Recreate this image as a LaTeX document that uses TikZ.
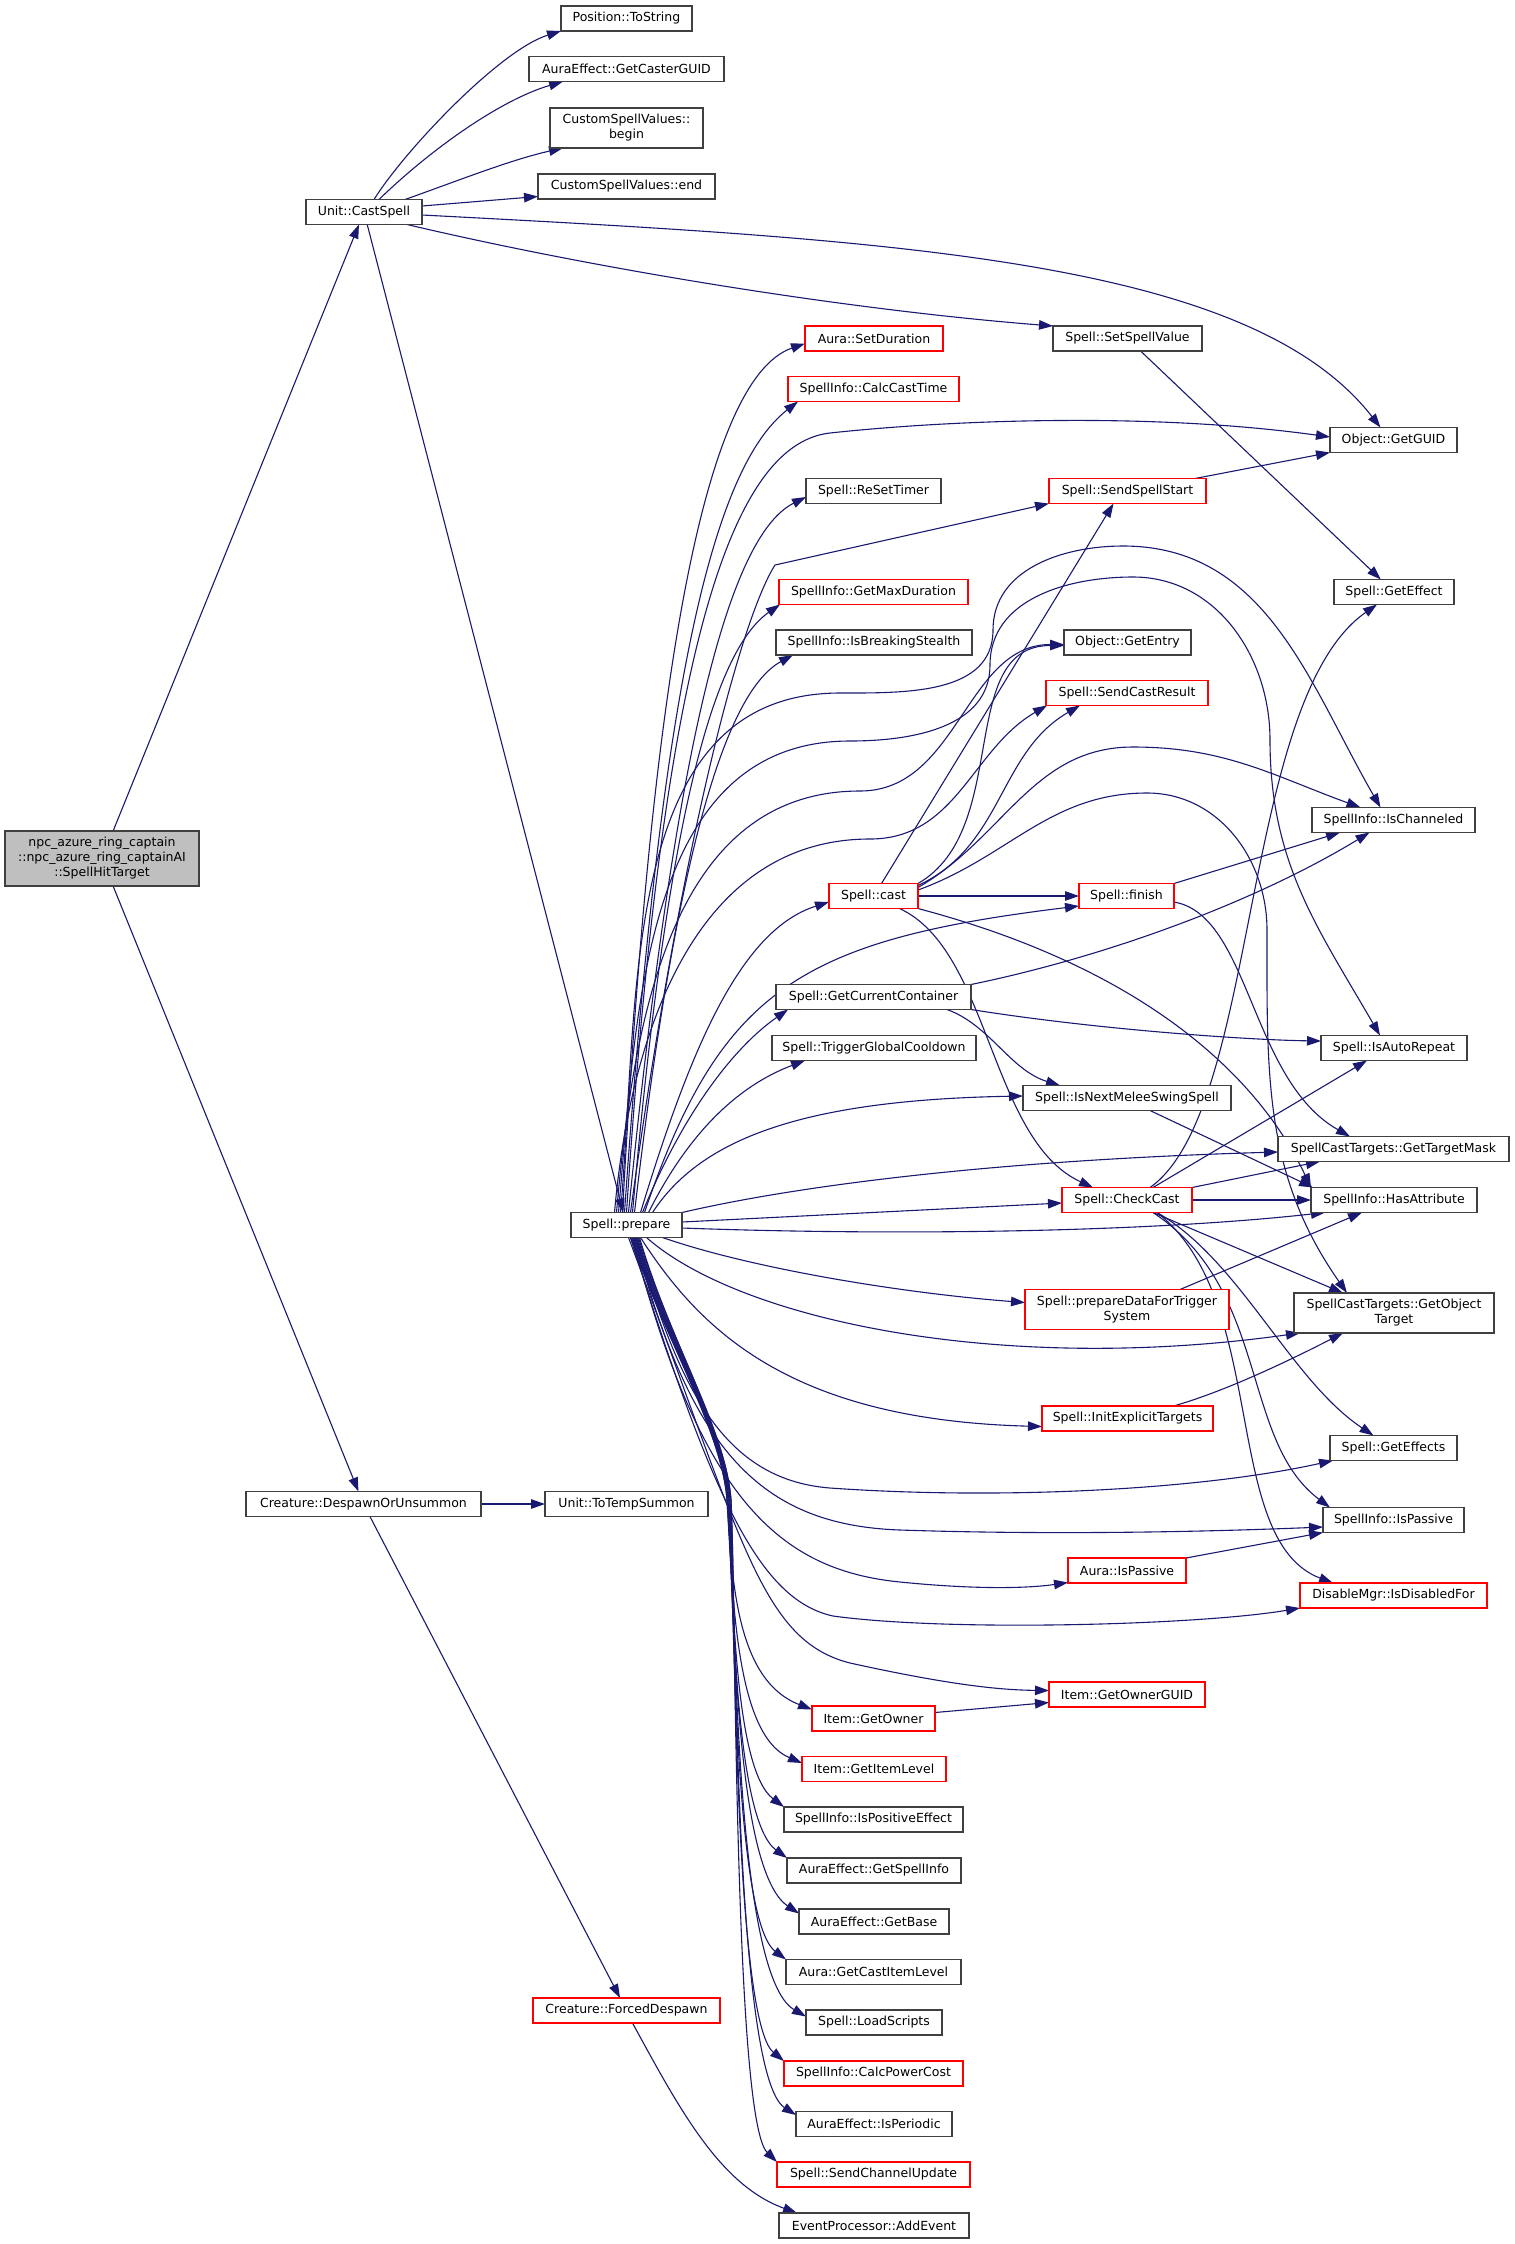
\documentclass[tikz,border=0pt]{standalone}
\usepackage{fontspec}
\setmainfont{DejaVu Sans}
\usetikzlibrary{arrows.meta, backgrounds}
\definecolor{edgeblue}{HTML}{191970}
\definecolor{boxline}{HTML}{404040}
\definecolor{rootfill}{HTML}{BFBFBF}

\begin{document}
\begin{tikzpicture}[x=1pt, y=1pt,
  fn/.style={draw=boxline, line width=1.1pt, fill=white, rectangle, inner sep=0pt, outer sep=0pt,
    minimum height=25pt, align=center, font=\fontsize{12.5}{15}\selectfont},
  cut/.style={fn, draw=red},
  root/.style={fn, fill=rootfill, minimum height=55pt},
  call/.style={edgeblue, line width=1.1pt, -{Triangle[length=14pt,width=9.5pt]}}]
\useasboundingbox (0,0) rectangle (1515,-2244);
% callers
\node[root, minimum width=194pt] (npc) at (102,-858.5) {npc\_azure\_ring\_captain\\::npc\_azure\_ring\_captainAI\\::SpellHitTarget};
\node[fn, minimum width=116pt] (castspell) at (364,-212) {Unit::CastSpell};
\node[fn, minimum width=235pt] (despawn) at (363.5,-1504) {Creature::DespawnOrUnsummon};
% second column
\node[fn, minimum width=131pt] (tostring) at (626.5,-18.5) {Position::ToString};
\node[fn, minimum width=195pt] (castguid) at (626.5,-69) {AuraEffect::GetCasterGUID};
\node[fn, minimum width=153pt, minimum height=40pt] (csvbegin) at (626.5,-128) {CustomSpellValues::\\begin};
\node[fn, minimum width=177pt] (csvend) at (626.5,-186.5) {CustomSpellValues::end};
\node[fn, minimum width=111pt] (prepare) at (626.5,-1225) {Spell::prepare};
\node[fn, minimum width=163pt] (totemp) at (626.5,-1504) {Unit::ToTempSummon};
\node[cut, minimum width=187pt] (forced) at (626.5,-2010.5) {Creature::ForcedDespawn};
% third column
\node[cut, minimum width=138pt] (setdur) at (874,-338.5) {Aura::SetDuration};
\node[cut, minimum width=171pt] (calccast) at (873.5,-389) {SpellInfo::CalcCastTime};
\node[fn, minimum width=135pt] (resettimer) at (873.5,-491) {Spell::ReSetTimer};
\node[cut, minimum width=189pt] (maxdur) at (873.5,-592) {SpellInfo::GetMaxDuration};
\node[fn, minimum width=196pt] (breaking) at (874,-642.5) {SpellInfo::IsBreakingStealth};
\node[cut, minimum width=89pt] (cast) at (873.5,-896) {Spell::cast};
\node[fn, minimum width=195pt] (container) at (873.5,-997) {Spell::GetCurrentContainer};
\node[fn, minimum width=204pt] (gcd) at (874,-1048) {Spell::TriggerGlobalCooldown};
\node[cut, minimum width=123pt] (getowner) at (873.5,-1718.5) {Item::GetOwner};
\node[cut, minimum width=144pt] (itemlevel) at (874,-1769) {Item::GetItemLevel};
\node[fn, minimum width=179pt] (positive) at (873.5,-1819.5) {SpellInfo::IsPositiveEffect};
\node[fn, minimum width=174pt] (getspellinfo) at (874,-1870.5) {AuraEffect::GetSpellInfo};
\node[fn, minimum width=150pt] (getbase) at (874,-1921.5) {AuraEffect::GetBase};
\node[fn, minimum width=175pt] (castitemlevel) at (873.5,-1972) {Aura::GetCastItemLevel};
\node[fn, minimum width=136pt] (loadscripts) at (874,-2022.5) {Spell::LoadScripts};
\node[cut, minimum width=179pt] (powercost) at (873.5,-2073.5) {SpellInfo::CalcPowerCost};
\node[fn, minimum width=156pt] (periodic) at (874,-2124) {AuraEffect::IsPeriodic};
\node[cut, minimum width=193pt] (channelupd) at (873.5,-2174.5) {Spell::SendChannelUpdate};
\node[fn, minimum width=190pt] (addevent) at (874,-2225.5) {EventProcessor::AddEvent};
% fourth column
\node[fn, minimum width=149pt] (setvalue) at (1127.5,-338.5) {Spell::SetSpellValue};
\node[cut, minimum width=157pt] (spellstart) at (1127.5,-491) {Spell::SendSpellStart};
\node[fn, minimum width=127pt] (getentry) at (1127.5,-642.5) {Object::GetEntry};
\node[cut, minimum width=162pt] (castresult) at (1127,-693) {Spell::SendCastResult};
\node[cut, minimum width=95pt] (finish) at (1126.5,-896) {Spell::finish};
\node[fn, minimum width=208pt] (melee) at (1127,-1098) {Spell::IsNextMeleeSwingSpell};
\node[cut, minimum width=130pt] (checkcast) at (1127,-1200) {Spell::CheckCast};
\node[cut, minimum width=204pt, minimum height=40pt] (trigger) at (1127,-1309.5) {Spell::prepareDataForTrigger\\System};
\node[cut, minimum width=171pt] (initexpl) at (1127.5,-1418.5) {Spell::InitExplicitTargets};
\node[cut, minimum width=118pt] (aurapassive) at (1127,-1570.5) {Aura::IsPassive};
\node[cut, minimum width=156pt] (ownerguid) at (1127,-1694.5) {Item::GetOwnerGUID};
% fifth column
\node[fn, minimum width=127pt] (getguid) at (1393.5,-440) {Object::GetGUID};
\node[fn, minimum width=120pt] (geteffect) at (1394,-592) {Spell::GetEffect};
\node[fn, minimum width=163pt] (channeled) at (1393.5,-820) {SpellInfo::IsChanneled};
\node[fn, minimum width=146pt] (autorepeat) at (1394,-1048) {Spell::IsAutoRepeat};
\node[fn, minimum width=231pt] (targetmask) at (1393.5,-1149) {SpellCastTargets::GetTargetMask};
\node[fn, minimum width=166pt] (hasattr) at (1394,-1200) {SpellInfo::HasAttribute};
\node[fn, minimum width=200pt, minimum height=40pt] (objtarget) at (1394,-1313) {SpellCastTargets::GetObject\\Target};
\node[fn, minimum width=127pt] (geteffects) at (1393.5,-1448) {Spell::GetEffects};
\node[fn, minimum width=141pt] (ispassive) at (1393.5,-1520) {SpellInfo::IsPassive};
\node[cut, minimum width=187pt] (disabled) at (1393.5,-1595.5) {DisableMgr::IsDisabledFor};
%
\begin{scope}[on background layer]
% root and Unit::CastSpell
\draw[call] (npc) -- (castspell);
\draw[call] (npc) -- (despawn);
\draw[call] ([xshift=10pt]castspell.north) .. controls (405,-150) and (500,-50) .. (tostring.south west);
\draw[call] ([xshift=15pt]castspell.north) .. controls (430,-150) and (500,-100) .. ([xshift=34pt]castguid.south west);
\draw[call] ([xshift=41pt]castspell.north) .. controls (460,-180) and (510,-160) .. ([xshift=13pt]csvbegin.south west);
\draw[call] ([yshift=6pt]castspell.east) -- ([yshift=-10pt]csvend.west);
\draw[call] ([yshift=-3pt]castspell.east) .. controls (900,-240) and (1250,-260) .. ([xshift=-13pt]getguid.north);
\draw[call] ([xshift=43pt]castspell.south) .. controls (600,-270) and (850,-310) .. (setvalue.north west);
\draw[call] (castspell) -- (prepare);
\draw[call] (setvalue) -- (geteffect);
\draw[call] ([xshift=-11pt]spellstart.north east) -- (getguid.south west);
% Creature::DespawnOrUnsummon
\draw[call] (despawn) -- (totemp);
\draw[call] (despawn) -- (forced);
\draw[call] ([xshift=6pt]forced.south) .. controls (680,-2110) and (720,-2185) .. ([xshift=18pt]addevent.north west);
% Spell::prepare, upwards
\draw[call] ([xshift=-4pt]prepare.north) .. controls (650,-700) and (700,-380) .. ([yshift=-5pt]setdur.west);
\draw[call] ([xshift=-2pt]prepare.north) .. controls (660,-700) and (710,-470) .. ([xshift=10pt]calccast.south west);
\draw[call] (prepare.north) .. controls (660,-700) and (720,-445) .. (830,-433) .. controls (950,-420) and (1150,-412) .. ([yshift=3pt]getguid.west);
\draw[call] ([xshift=2pt]prepare.north) .. controls (670,-800) and (720,-540) .. ([yshift=-6pt]resettimer.west);
\draw[call] ([xshift=4pt]prepare.north) .. controls (680,-850) and (740,-620) .. (775,-565) -- (spellstart.south west);
\draw[call] ([xshift=6pt]prepare.north) .. controls (660,-900) and (700,-660) .. ([xshift=1pt]maxdur.south west);
\draw[call] ([xshift=8pt]prepare.north) .. controls (665,-950) and (710,-700) .. ([xshift=17pt]breaking.south west);
\draw[call] ([xshift=-6pt]prepare.north) to[out=85,in=180] (840,-693) to[out=0,in=-90] (993,-630) to[out=90,in=180] (1123,-546) to[out=0,in=120] ([xshift=-13pt]channeled.north);
\draw[call] ([xshift=-8pt]prepare.north) to[out=85,in=180] (850,-741) to[out=0,in=-90] (990,-665) to[out=90,in=180] (1133,-577) to[out=0,in=90] (1270,-740) to[out=-90,in=120] ([xshift=-14pt]autorepeat.north);
\draw[call] ([xshift=-10pt]prepare.north) to[out=85,in=180] (860,-791) to[out=0,in=180] ([yshift=-2pt]getentry.west);
\draw[call] ([xshift=-12pt]prepare.north) to[out=85,in=180] (870,-839) to[out=0,in=210] ([xshift=1pt]castresult.south west);
\draw[call] ([xshift=14pt]prepare.north) .. controls (690,-1050) and (740,-930) .. ([yshift=-6pt]cast.west);
\draw[call] ([xshift=18pt]prepare.north) .. controls (720,-990) and (800,-940) .. ([yshift=-10pt]finish.west);
\draw[call] ([xshift=16pt]prepare.north) .. controls (680,-1120) and (730,-1050) .. ([xshift=12pt]container.south west);
\draw[call] ([xshift=22pt]prepare.north) .. controls (690,-1130) and (740,-1085) .. ([xshift=33pt]gcd.south west);
\draw[call] ([xshift=26pt]prepare.north) .. controls (700,-1140) and (800,-1100) .. ([yshift=2pt]melee.west);
% Spell::prepare, sideways
\draw[call] (prepare.north east) .. controls (800,-1185) and (1000,-1160) .. ([yshift=-3pt]targetmask.west);
\draw[call] ([yshift=3pt]prepare.east) -- ([yshift=-3pt]checkcast.west);
\draw[call] ([yshift=-3pt]prepare.east) .. controls (900,-1236) and (1150,-1232) .. ([xshift=14pt]hasattr.south west);
\draw[call] ([xshift=36pt]prepare.south) .. controls (750,-1268) and (900,-1293) .. ([yshift=7pt]trigger.west);
\draw[call] ([xshift=20pt]prepare.south) .. controls (740,-1320) and (1000,-1375) .. ([xshift=6pt]objtarget.south west);
\draw[call] ([xshift=14pt]prepare.south) .. controls (700,-1330) and (790,-1420) .. ([yshift=-8pt]initexpl.west);
\draw[call] ([xshift=10pt]prepare.south) .. controls (680,-1400) and (730,-1480) .. (830,-1488) .. controls (1000,-1500) and (1200,-1490) .. ([xshift=3pt]geteffects.south west);
\draw[call] ([xshift=8pt]prepare.south) .. controls (690,-1450) and (760,-1525) .. (900,-1530) .. controls (1050,-1535) and (1200,-1532) .. ([yshift=-7pt]ispassive.west);
\draw[call] ([xshift=6pt]prepare.south) .. controls (700,-1500) and (780,-1570) .. (900,-1582) .. controls (980,-1590) and (1030,-1588) .. ([yshift=-12pt]aurapassive.west);
\draw[call] ([xshift=4pt]prepare.south) .. controls (712,-1500) and (760,-1600) .. (833,-1616) .. controls (950,-1632) and (1200,-1625) .. (disabled.south west);
\draw[call] ([xshift=2pt]prepare.south) .. controls (742,-1540) and (760,-1640) .. (850,-1663) .. controls (950,-1685) and (1000,-1690) .. ([yshift=4pt]ownerguid.west);
% Spell::prepare, downwards
\draw[call] ([xshift=4pt]prepare.south) .. controls (665,-1340) and (722,-1430) .. (727,-1500) .. controls (732,-1580) and (736,-1680) .. ([yshift=9pt]getowner.west);
\draw[call] ([xshift=5pt]prepare.south) .. controls (665,-1340) and (722,-1430) .. (727,-1500) .. controls (733,-1600) and (736,-1735) .. ([yshift=6pt]itemlevel.west);
\draw[call] ([xshift=6pt]prepare.south) .. controls (666,-1340) and (723,-1430) .. (728,-1500) .. controls (733,-1600) and (735,-1770) .. (positive.north west);
\draw[call] ([xshift=7pt]prepare.south) .. controls (666,-1340) and (723,-1430) .. (728,-1500) .. controls (733,-1600) and (735,-1820) .. (getspellinfo.north west);
\draw[call] ([xshift=8pt]prepare.south) .. controls (667,-1340) and (724,-1430) .. (729,-1500) .. controls (734,-1600) and (734,-1870) .. ([yshift=8pt]getbase.west);
\draw[call] ([xshift=9pt]prepare.south) .. controls (667,-1340) and (724,-1430) .. (729,-1500) .. controls (734,-1600) and (734,-1920) .. (castitemlevel.north west);
\draw[call] ([xshift=10pt]prepare.south) .. controls (668,-1340) and (725,-1430) .. (730,-1500) .. controls (735,-1600) and (734,-1975) .. ([yshift=6pt]loadscripts.west);
\draw[call] ([xshift=11pt]prepare.south) .. controls (668,-1340) and (725,-1430) .. (730,-1500) .. controls (735,-1600) and (734,-2020) .. (powercost.north west);
\draw[call] ([xshift=12pt]prepare.south) .. controls (669,-1340) and (726,-1430) .. (731,-1500) .. controls (736,-1600) and (734,-2075) .. ([yshift=9pt]periodic.west);
\draw[call] ([xshift=13pt]prepare.south) .. controls (669,-1340) and (726,-1430) .. (731,-1500) .. controls (736,-1600) and (734,-2120) .. (channelupd.north west);
% Spell::cast
\draw[call] ([xshift=8pt]cast.north) -- ([xshift=-14pt]spellstart.south);
\draw[call] (cast.north east) to[out=30,in=180] ([yshift=-3pt]getentry.west);
\draw[call] ([yshift=-2pt]cast.north east) to[out=25,in=210] ([xshift=34pt]castresult.south west);
\draw[call] ([yshift=-4pt]cast.north east) to[out=30,in=180] (1133,-747) to[out=0,in=160] ([xshift=-33pt]channeled.north);
\draw[call] ([yshift=6pt]cast.east) to[out=20,in=180] (1147,-793) to[out=0,in=90] (1267,-930) to[out=-90,in=125] ([xshift=-47pt]objtarget.north);
\draw[call] (cast) -- (finish);
\draw[call] ([xshift=26pt]cast.south) .. controls (990,-950) and (990,-1140) .. ([xshift=31pt]checkcast.north west);
\draw[call] (cast.south east) .. controls (1150,-970) and (1260,-1080) .. (hasattr.north west);
% Spell::finish
\draw[call] (finish.north east) -- ([xshift=28pt]channeled.south west);
\draw[call] ([yshift=-6pt]finish.east) .. controls (1250,-915) and (1250,-1080) .. ([xshift=72pt]targetmask.north west);
% Spell::GetCurrentContainer
\draw[call] (container.north east) .. controls (1100,-958) and (1250,-905) .. ([xshift=-24pt]channeled.south);
\draw[call] (container.south east) .. controls (1100,-1030) and (1250,-1040) .. ([yshift=7pt]autorepeat.west);
\draw[call] ([xshift=-24pt]container.south east) .. controls (990,-1025) and (1010,-1070) .. ([xshift=37pt]melee.north west);
\draw[call] ([xshift=23pt]melee.south) -- ([xshift=2pt]hasattr.north west);
% Spell::CheckCast
\draw[call] ([xshift=23pt]checkcast.north) .. controls (1260,-1110) and (1240,-700) .. ([xshift=-17pt]geteffect.south);
\draw[call] ([xshift=26pt]checkcast.north) -- ([xshift=-27pt]autorepeat.south);
\draw[call] (checkcast.north east) -- ([xshift=42pt]targetmask.south west);
\draw[call] (checkcast) -- (hasattr);
\draw[call] ([xshift=26pt]checkcast.south) -- ([xshift=-51pt]objtarget.north);
\draw[call] ([xshift=30pt]checkcast.south) .. controls (1240,-1260) and (1290,-1380) .. ([xshift=-20pt]geteffects.north);
\draw[call] ([xshift=26pt]checkcast.south) .. controls (1270,-1290) and (1240,-1440) .. ([xshift=7pt]ispassive.north west);
\draw[call] ([xshift=30pt]checkcast.south) .. controls (1270,-1300) and (1220,-1540) .. ([xshift=33pt]disabled.north west);
% the rest
\draw[call] ([xshift=53pt]trigger.north) -- ([xshift=51pt]hasattr.south west);
\draw[call] ([xshift=46pt]initexpl.north) .. controls (1230,-1390) and (1300,-1355) .. ([xshift=49pt]objtarget.south west);
\draw[call] (aurapassive.north east) -- (ispassive.south west);
\draw[call] ([yshift=6pt]getowner.east) -- ([yshift=-8pt]ownerguid.west);
\end{scope}
\end{tikzpicture}
\end{document}
